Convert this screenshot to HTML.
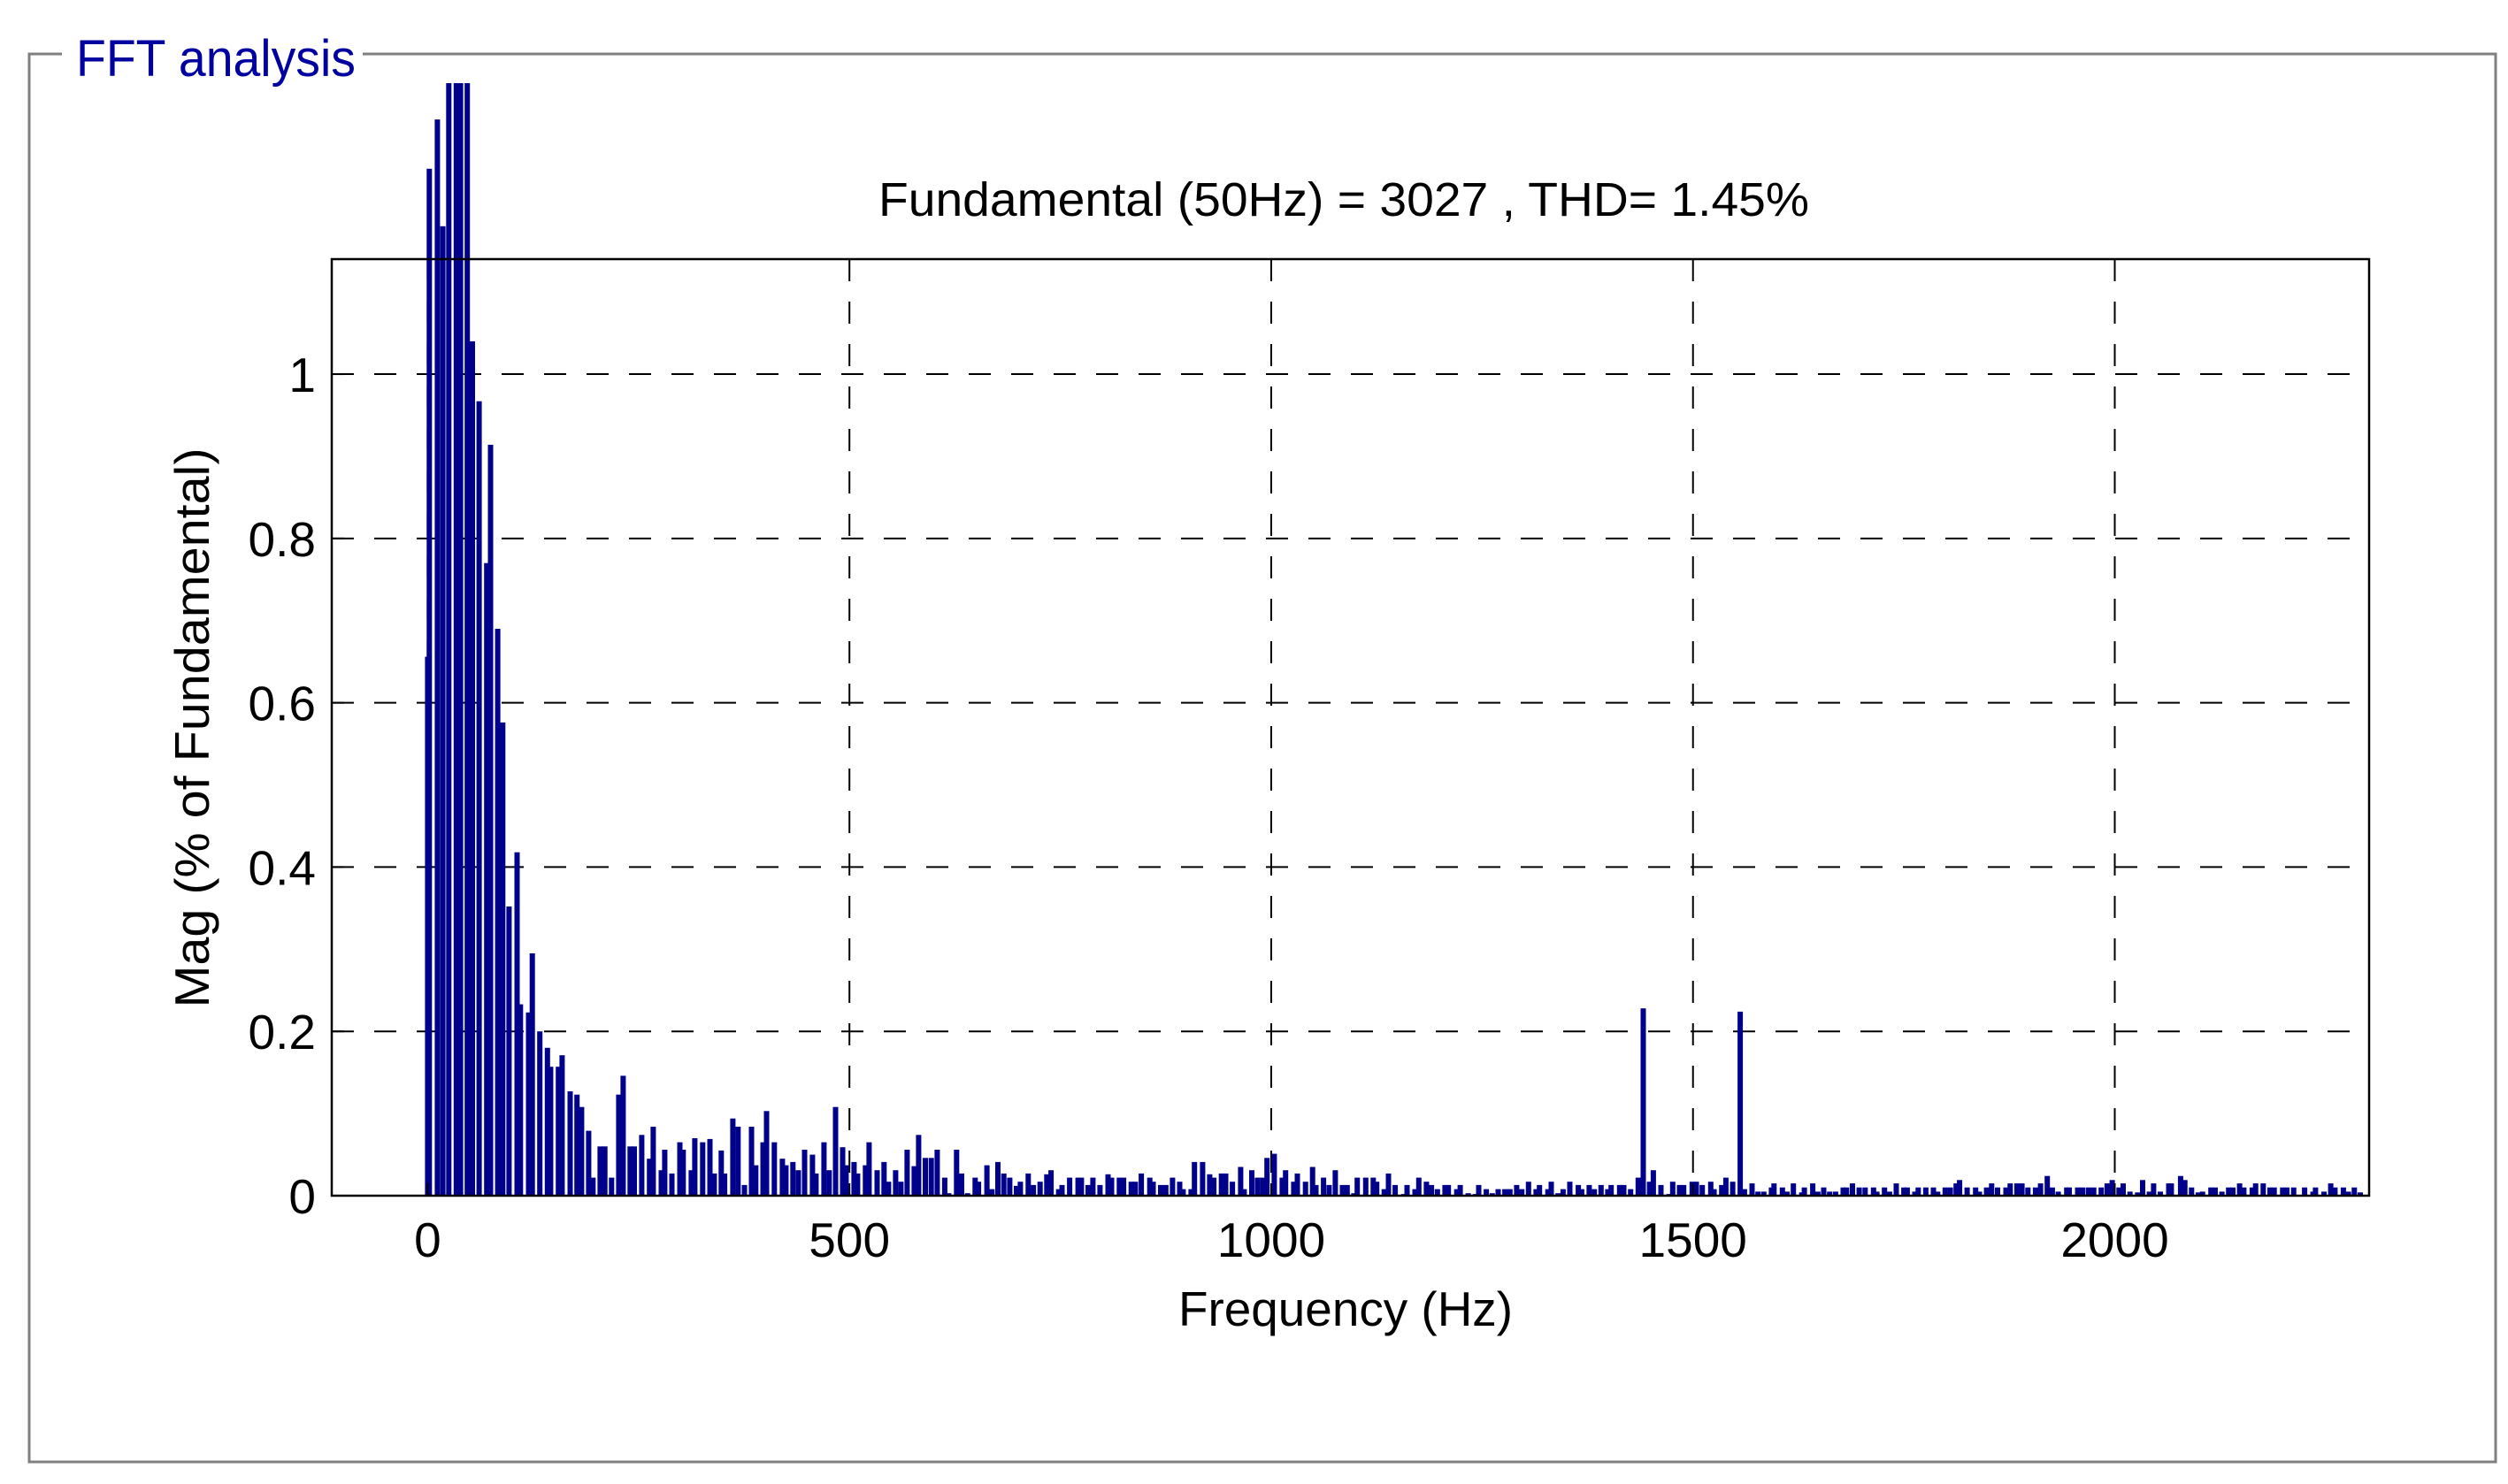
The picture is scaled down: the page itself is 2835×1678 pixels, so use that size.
<!DOCTYPE html>
<html><head><meta charset="utf-8"><title>FFT analysis</title>
<style>
html,body{margin:0;padding:0;background:#fff;}
svg{display:block;font-family:"Liberation Sans",Arial,sans-serif;}
</style></head>
<body>
<svg id="chart" width="2835" height="1678" viewBox="0 0 2835 1678" xmlns="http://www.w3.org/2000/svg">
  <rect x="0" y="0" width="2835" height="1678" fill="#fff"/>
  <g stroke="#808080" stroke-width="3" fill="none">
    <polyline points="70,61 33,61 33,1653 2821,1653 2821,61 410,61"/>
  </g>
  <text x="86" y="86" font-size="58" fill="#0000a0" textLength="316" lengthAdjust="spacingAndGlyphs">FFT analysis</text>
  <text x="1519" y="244" font-size="54" text-anchor="middle" textLength="1052" lengthAdjust="spacingAndGlyphs">Fundamental (50Hz) = 3027 , THD= 1.45%</text>
  <g id="grid"></g>
  <g id="bars"></g>
  <rect x="375" y="293" width="2303" height="1059" fill="none" stroke="#000" stroke-width="2.5"/>
  <g id="xticks"></g>
  <g id="yticks"></g>
  <text x="1521" y="1499" font-size="55" text-anchor="middle" textLength="378" lengthAdjust="spacingAndGlyphs">Frequency (Hz)</text>
  <text transform="translate(236,823) rotate(-90)" font-size="55" text-anchor="middle" textLength="633" lengthAdjust="spacingAndGlyphs">Mag (% of Fundamental)</text>
</svg>
<script>
const freqs = [0,2,11.5,18,25,34,39,47,53,61,70,74.5,83,89,96.5,106,110,119.6,124,133,
142,145.8,155,159.4,168.9,177,182.5,190.9,196,204.5,210,218,226.5,231.8,240,245,253.8,263,267.4,276.9,281,289.5,299,303,312.5,316.7,326,334.6,339.8,348,352,361.8,368,375.5,383.9,389,397.5,401.7,411,420.5,424.7,433,439.4,446.8,456.2,460.4,469.8,476,483.5,491.9,496,505.5,509.7,519,523.3,532.8,541,546.4,554.8,561,568.4,576.8,582,
590,597,604,613,617.7,627,633,640,649,653,663,669,676,683,690,698,702.6,712,718,726,734,739,748,752,761,771,775,783,788.6,797,806.5,810.7,820,825,834,839,846,856,860,869,875,883,891.5,895.6,905,909,918.7,927,932,941,946,954,963.8,968,977,983.7,990,995,1003.6,1013,1017,1026.7,1031,1040.6,1049,1053,1062,1068.6,1076,
1084.5,1090,1098,1102,1112,1121,1125,1134,1139,1147,1157,1161,1170.5,1175,1184,1190,1197,1206,1210,1220,1224,1233.5,1242,1246,1255,1262,1269,1277,1283,1291,1297,1305,1314,1318,1328,1332,1340,1346,1354,1364,1368,1377,1383,1391,1399,1403,1413,1418,1426,1435,1441,1448.5,1453,1462,1471.5,1476,1484,1489,1499,1504,1511,1521,1525,1534,1539,1547,1556,1561,
1570,1577,1584,1593,1596,1606,1611.5,1619,1629,1632,1642,1648,1655,1662,1669,1678,1682,1689,1697,1704,1714,1718,1727,1733,1741,1750,1754,1763,1767,1776,1785,1790,1799,1805,1812,1816,1825,1835,1839.5,1848,1854,1861,1871,1876,1884,1890,1897,1906,1912,1920,1926,1933,1943,1946,1956,1962,1969,1975,1984,1991,1997,2005,2010,2018,2027,2033,2041,2046,2054,2064,2067,2078,2083,2091,2099,2104,2114,2119,2127,2135,2140,2148,2153,2163,2167,2176,2184,2189,2199,2204,2212,2225,2235,2238,2248,2256,2261,2271,2277,2284,2291];
const mags = [0.656,1.25,1.31,1.18,1.6,1.6,1.6,1.6,1.04,0.967,0.77,0.914,0.69,0.576,0.352,0.418,0.233,0.223,0.295,0.2,
0.18,0.157,0.157,0.171,0.127,0.123,0.108,0.079,0.022,0.06,0.06,0.022,0.123,0.146,0.06,0.06,0.074,0.045,0.084,0.031,0.056,0.027,0.065,0.056,0.031,0.07,0.065,0.069,0.027,0.055,0.027,0.094,0.084,0.013,0.084,0.037,0.065,0.103,0.065,0.045,0.037,0.041,0.031,0.056,0.05,0.027,0.065,0.031,0.108,0.059,0.037,0.041,0.027,0.037,0.065,0.031,0.041,0.017,0.031,0.017,0.056,0.036,0.074,
0.046,0.046,0.056,0.022,0.003,0.056,0.027,0.003,0.022,0.017,0.037,0.008,0.041,0.027,0.022,0.012,0.017,0.027,0.013,0.017,0.026,0.031,0.008,0.013,0.022,0.022,0.022,0.013,0.022,0.013,0.026,0.022,0.022,0.022,0.017,0.017,0.027,0.022,0.017,0.013,0.013,0.022,0.017,0.008,0.008,0.041,0.041,0.026,0.022,0.027,0.027,0.017,0.035,0.008,0.031,0.022,0.022,0.046,0.051,0.022,0.031,0.017,0.027,0.017,0.035,0.013,0.022,0.013,0.031,
0.013,0.013,0.003,0.022,0.022,0.022,0.017,0.008,0.027,0.013,0.002,0.013,0.008,0.022,0.017,0.013,0.008,0.013,0.013,0.008,0.013,0.003,0.002,0.013,0.008,0.003,0.008,0.008,0.008,0.013,0.008,0.017,0.008,0.013,0.008,0.017,0.003,0.008,0.017,0.013,0.008,0.013,0.008,0.013,0.008,0.013,0.013,0.013,0.008,0.022,0.228,0.017,0.031,0.013,0.002,0.017,0.013,0.013,0.017,0.017,0.013,0.017,0.008,0.013,0.022,0.017,0.224,0.008,
0.015,0.005,0.005,0.010,0.015,0.010,0.005,0.015,0.004,0.010,0.015,0.005,0.010,0.005,0.005,0.010,0.010,0.015,0.010,0.010,0.010,0.005,0.010,0.005,0.015,0.010,0.010,0.005,0.010,0.010,0.010,0.005,0.010,0.010,0.015,0.019,0.010,0.010,0.005,0.010,0.015,0.010,0.010,0.015,0.015,0.015,0.010,0.010,0.015,0.024,0.010,0.005,0.010,0.010,0.010,0.010,0.010,0.010,0.010,0.015,0.019,0.010,0.015,0.005,0.004,0.019,0.005,0.015,0.005,0.015,0.015,0.024,0.019,0.010,0.004,0.005,0.010,0.010,0.005,0.010,0.010,0.015,0.010,0.010,0.015,0.015,0.010,0.010,0.010,0.010,0.010,0.010,0.005,0.010,0.005,0.015,0.010,0.010,0.005,0.010,0.004];
const xTickValues = [0,500,1000,1500,2000];
const xTickLabels = ["0","500","1000","1500","2000"];
const yTickValues = [0,0.2,0.4,0.6,0.8,1];
const yTickLabels = ["0","0.2","0.4","0.6","0.8","1"];

const NS = "http://www.w3.org/2000/svg";
const plot = {left:375, right:2678, top:293, bottom:1352};
const xMin = -113.7, xMax = 2301.5, yMin = 0, yMax = 1.14;
function xScale(v){ return plot.left + (v - xMin) / (xMax - xMin) * (plot.right - plot.left); }
function yScale(v){ return plot.bottom - (v - yMin) / (yMax - yMin) * (plot.bottom - plot.top); }
function mk(tag, attrs, parent){ const e = document.createElementNS(NS, tag); for (const k in attrs) e.setAttribute(k, attrs[k]); parent.appendChild(e); return e; }

const grid = document.getElementById('grid');
xTickValues.forEach(function(v){
  const l = mk('line', {x1:xScale(v), x2:xScale(v), y1:plot.top, y2:plot.bottom, stroke:'#000', 'stroke-width':2, 'stroke-dasharray':'25 23'}, grid);
  
  
});
yTickValues.forEach(function(v){
  if (v === 0) return;
  const l = mk('line', {x1:plot.left, x2:plot.right, y1:yScale(v), y2:yScale(v), stroke:'#000', 'stroke-width':2, 'stroke-dasharray':'25 23'}, grid);
  
  
});

const bars = document.getElementById('bars');
const clipTop = 94;
freqs.forEach(function(f, i){
  const x = xScale(f);
  const y = Math.max(clipTop, yScale(mags[i]));
  const r = mk('rect', {x:(x - 3).toFixed(1), y:y.toFixed(1), width:6, height:(plot.bottom - y).toFixed(1), fill:'#00008b'}, bars);
  
  
});
const base = mk('line', {x1:plot.left, x2:plot.right, y1:plot.bottom, y2:plot.bottom, stroke:'#00008b', 'stroke-width':2}, bars);



const xt = document.getElementById('xticks');
xTickValues.forEach(function(v, i){
  const t = mk('line', {x1:xScale(v), x2:xScale(v), y1:plot.bottom, y2:plot.bottom - 14, stroke:'#000', 'stroke-width':2}, xt);
  
  
  const tx = mk('text', {x:xScale(v), y:1421, 'font-size':55, 'text-anchor':'middle'}, xt);
  tx.textContent = xTickLabels[i];
  
  
});
const yt = document.getElementById('yticks');
yTickValues.forEach(function(v, i){
  const t = mk('line', {x1:plot.left, x2:plot.left + 14, y1:yScale(v), y2:yScale(v), stroke:'#000', 'stroke-width':2}, yt);
  
  
  const tx = mk('text', {x:357, y:yScale(v) + 20, 'font-size':55, 'text-anchor':'end'}, yt);
  tx.textContent = yTickLabels[i];
  
  
});
</script>
</body></html>
